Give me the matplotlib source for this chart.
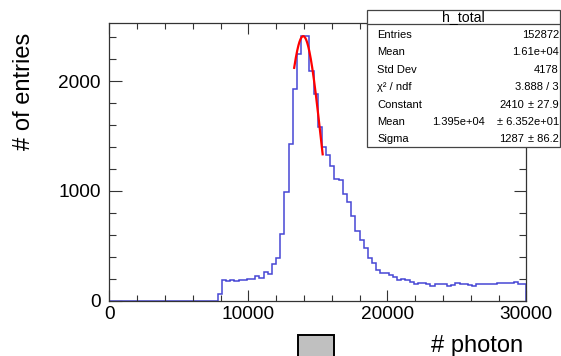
import matplotlib

matplotlib.use("Agg")

import matplotlib.pyplot as plt
import numpy as np
from matplotlib.patches import Rectangle
from matplotlib.ticker import MultipleLocator

plt.rcParams["font.family"] = ["Liberation Sans", "DejaVu Sans"]

# histogram h_total: 100 bins of 300 photons between 0 and 30000
bin_edges = np.linspace(0.0, 30000.0, 101)
bin_counts = np.zeros(100)
bin_counts[26:] = [
    64, 190, 178, 185, 182, 188, 192, 194, 198, 227,      # 26-35
    209, 258, 240, 331, 385, 612, 991, 1424, 1931, 2250,  # 36-45
    2415, 2415, 2097, 1885, 1582, 1400, 1324, 1224, 1112, 1100,  # 46-55
    976, 900, 770, 637, 552, 476, 385, 346, 279, 255,     # 56-65
    250, 234, 218, 188, 194, 188, 173, 149, 160, 160,     # 66-75
    152, 130, 148, 150, 150, 138, 145, 158, 152, 148,     # 76-85
    140, 136, 148, 152, 150, 156, 155, 160, 160, 165,     # 86-95
    162, 168, 155, 150,                                   # 96-99
]

# gaussian fit result
fit_constant = 2410.0
fit_mean = 1.395e04
fit_sigma = 1287.0
fit_range = (13300.0, 15350.0)

stats_labels = ["Entries", "Mean", "Std Dev", "χ² / ndf", "Constant", "Mean", "Sigma"]
stats_values = ["152872", "1.61e+04", "4178", "3.888 / 3", "2410", "1.395e+04", "1287"]
stats_errors = ["", "", "", "", "± 27.9", "± 6.352e+01", "± 86.2"]

W, H = 561, 356


def fx(x):
    return x / W


def fy(y):
    return 1.0 - y / H


fig = plt.figure(figsize=(W / 100, H / 100), dpi=100)
ax = fig.add_axes([fx(109.3), fy(300.7), fx(526.3) - fx(109.3), fy(23) - fy(300.7)])

ax.stairs(bin_counts, bin_edges, color="#4646d4", linewidth=1.1, baseline=0.0)

fit_x = np.linspace(fit_range[0], fit_range[1], 200)
fit_y = fit_constant * np.exp(-0.5 * ((fit_x - fit_mean) / fit_sigma) ** 2)
ax.plot(fit_x, fit_y, color="#ff0000", linewidth=1.6)

ax.set_xlim(0, 30000)
ax.set_ylim(0, 2530)
ax.xaxis.set_major_locator(MultipleLocator(10000))
ax.xaxis.set_minor_locator(MultipleLocator(2000))
ax.yaxis.set_major_locator(MultipleLocator(1000))
ax.yaxis.set_minor_locator(MultipleLocator(200))
ax.tick_params(axis="both", which="both", direction="in", top=True, right=True,
               labelsize=13.7, colors="#333333", labelcolor="black")
ax.tick_params(axis="x", which="major", length=7.9, width=0.8, pad=4)
ax.tick_params(axis="x", which="minor", length=4.3, width=0.8)
ax.tick_params(axis="y", which="major", length=9.0, width=0.8, pad=6)
ax.tick_params(axis="y", which="minor", length=4.7, width=0.8)
for spine in ax.spines.values():
    spine.set_color("#333333")
    spine.set_linewidth(0.9)

fig.text(fx(523), fy(352), "# photon", fontsize=17, ha="right", va="baseline")
fig.text(fx(24), fy(33), "# of entries", fontsize=17, rotation=90, ha="center", va="top")

# stats box
box_left, box_right, box_top, box_bottom = 366.7, 560.0, 10.0, 147.0
fig.patches.append(Rectangle((fx(box_left), fy(box_bottom)), fx(box_right - box_left),
                             fy(box_top) - fy(box_bottom), transform=fig.transFigure,
                             facecolor="white", edgecolor="#444444", linewidth=0.9, zorder=5))
fig.lines.append(plt.Line2D([fx(box_left), fx(box_right)], [fy(24), fy(24)],
                            transform=fig.transFigure, color="#444444", linewidth=0.9, zorder=6))
fig.text(fx((box_left + box_right) / 2), fy(17), "h_total", fontsize=10.2,
         ha="center", va="center", zorder=7)
row_y = [34.5, 52, 70, 87.5, 105, 122, 139.5]
for label, value, error, y in zip(stats_labels, stats_values, stats_errors, row_y):
    fig.text(fx(377), fy(y), label, fontsize=8, ha="left", va="center", zorder=7)
    if error:
        value_right = 485 if label == "Mean" else 524
        fig.text(fx(value_right), fy(y), value, fontsize=8, ha="right", va="center", zorder=7)
        fig.text(fx(559), fy(y), error, fontsize=8, ha="right", va="center", zorder=7)
    else:
        fig.text(fx(559), fy(y), value, fontsize=8, ha="right", va="center", zorder=7)

# grey marker square below the axis
fig.patches.append(Rectangle((fx(298), fy(358)), fx(36), fy(335) - fy(358),
                             transform=fig.transFigure, facecolor="#c0c0c0",
                             edgecolor="black", linewidth=1.4, zorder=5))

fig.savefig("out.png", dpi=100)
plt.close(fig)
